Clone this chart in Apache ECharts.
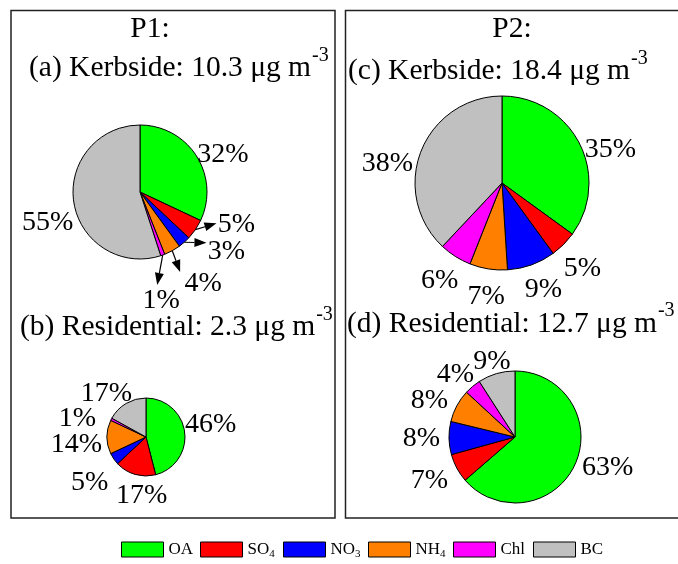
<!DOCTYPE html>
<html>
<head>
<meta charset="utf-8">
<script src="https://cdn.jsdelivr.net/npm/echarts@6/dist/echarts.min.js"></script>
<style>
  html, body { margin: 0; padding: 0; background: #fff; }
  #chart { width: 678px; height: 564px; }
</style>
</head>
<body>
<div id="chart"></div>
<script>
// Mass fractions (%) of PM components at the two periods and sites
const components = ['OA', 'SO4', 'NO3', 'NH4', 'Chl', 'BC'];
const kerbsideP1 = [32, 5, 3, 4, 1, 55];
const residentialP1 = [46, 17, 5, 14, 1, 17];
const kerbsideP2 = [35, 5, 9, 7, 6, 38];
const residentialP2 = [63, 7, 8, 8, 4, 9];
const periodNames = ['P1:', 'P2:'];
const siteNames = ['(a) Kerbside', '(b) Residential', '(c) Kerbside', '(d) Residential'];
const siteTotals = ['10.3', '2.3', '18.4', '12.7'];

const colors = ['#00ff00', '#ff0000', '#0000ff', '#ff8000', '#ff00ff', '#c0c0c0'];
const FONT = '"Liberation Serif", "Times New Roman", serif';
const LABEL_SIZE = 28;
const TITLE_SIZE = 29.5;

// Layout of each pie: centre, radius and small label adjustments
const pies = [
  { values: kerbsideP1, center: [140, 192], r: 67,
    nudge: [[-2, 6], [19, -17], [24.5, -6], [18, 15.5], [-10.5, 27], [7, 15]],
    // arrow tip relative to the label centre, for the small slices
    arrowTips: { 1: [-20, 0.5], 2: [-20, -7], 3: [-23, -10], 4: [-4, -14] } },
  { values: residentialP1, center: [146, 437], r: 39,
    nudge: [[-7.5, -7], [16, 2], [-2, 12], [3, 6], [-10, 6], [-2.5, 4]], arrowTips: {} },
  { values: kerbsideP2, center: [502, 183], r: 87,
    nudge: [[1, 12.6], [0, 9], [3, 6], [2, 8], [-1.5, 6.5], [-2.5, 17]], arrowTips: {} },
  { values: residentialP2, center: [515, 437], r: 66,
    nudge: [[2, -6], [-4, 2.4], [-1, -1.4], [-4, 1], [0, 0], [3, 3.6]], arrowTips: {} }
];

const measureCtx = document.createElement('canvas').getContext('2d');
function textWidth(str, size) {
  measureCtx.font = size + 'px ' + FONT;
  return measureCtx.measureText(str).width;
}

// clockwise angle (deg from 12 o'clock) of the middle of slice i
function midAngle(values, i) {
  const total = values.reduce((a, b) => a + b, 0);
  let before = 0;
  for (let k = 0; k < i; k++) before += values[k];
  return (before + values[i] / 2) / total * 360;
}

function arcPoint(p, i, radius) {
  const t = midAngle(p.values, i) * Math.PI / 180;
  return [p.center[0] + radius * Math.sin(t), p.center[1] - radius * Math.cos(t)];
}

const GAP = 8, HALF_H = 10, LABEL_DY = 2;
function labelCenter(pi, i) {
  const p = pies[pi];
  const t = midAngle(p.values, i) * Math.PI / 180;
  const hw = textWidth(p.values[i] + '%', LABEL_SIZE) / 2;
  const a = arcPoint(p, i, p.r + GAP);
  return [a[0] + hw * Math.sin(t) + p.nudge[i][0],
          a[1] - HALF_H * Math.cos(t) + p.nudge[i][1] + LABEL_DY];
}

// arrows pointing from the slice edge to its displaced label
function arrowGraphics() {
  const out = [];
  pies.forEach((p, pi) => {
    Object.keys(p.arrowTips).forEach(key => {
      const i = +key;
      const s = arcPoint(p, i, p.r);
      const c = labelCenter(pi, i);
      const tip = [c[0] + p.arrowTips[i][0], c[1] + p.arrowTips[i][1] - LABEL_DY];
      const dx = tip[0] - s[0], dy = tip[1] - s[1];
      const len = Math.hypot(dx, dy);
      const ux = dx / len, uy = dy / len;
      const headL = 12, headW = 4.5;
      const base = [tip[0] - ux * headL, tip[1] - uy * headL];
      out.push({
        type: 'line', z: 20,
        shape: { x1: s[0], y1: s[1], x2: base[0], y2: base[1] },
        style: { stroke: '#000', lineWidth: 1.2 }
      });
      out.push({
        type: 'polygon', z: 20,
        shape: { points: [tip, [base[0] - uy * headW, base[1] + ux * headW], [base[0] + uy * headW, base[1] - ux * headW]] },
        style: { fill: '#000' }
      });
    });
  });
  return out;
}

function titleText(x, y, text, align) {
  return {
    type: 'text', x: x, y: y, z: 10,
    style: {
      text: text, fill: '#000', font: TITLE_SIZE + 'px ' + FONT,
      lineHeight: 46,
      align: align, verticalAlign: 'middle',
      rich: { sup: { fontSize: 20, fontFamily: FONT, verticalAlign: 'top', lineHeight: 20, padding: [0, 0, 0, 1] } }
    }
  };
}
function siteTitle(k) {
  return siteNames[k] + ': ' + siteTotals[k] + ' μg m{sup|-3}';
}

const series = pies.map((p, pi) => ({
  type: 'pie',
  center: p.center,
  radius: p.r,
  startAngle: 90,
  clockwise: true,
  avoidLabelOverlap: false,
  animation: false,
  itemStyle: { borderColor: '#000', borderWidth: 1 },
  emphasis: { disabled: true },
  label: {
    show: true,
    position: 'outside',
    formatter: '{c}%',
    color: '#000',
    fontFamily: FONT,
    fontSize: LABEL_SIZE
  },
  labelLine: { show: false },
  labelLayout: params => {
    const c = labelCenter(pi, params.dataIndex);
    return { x: c[0], y: c[1], align: 'center', verticalAlign: 'middle' };
  },
  data: components.map((name, i) => ({ name: name, value: p.values[i] }))
}));

const legendNames = { SO4: 'SO{sub|4}', NO3: 'NO{sub|3}', NH4: 'NH{sub|4}' };
const legendLeft = [121, 200, 283, 368, 453, 533];
const legends = components.map((name, i) => ({
  data: [name],
  left: legendLeft[i],
  top: 539.5,
  padding: 0,
  orient: 'horizontal',
  selectedMode: false,
  icon: 'rect',
  itemWidth: 42,
  itemHeight: 15,
  itemGap: 0,
  itemStyle: { borderColor: '#000', borderWidth: 1 },
  formatter: n => legendNames[n] || n,
  textStyle: {
    fontFamily: FONT, fontSize: 17, color: '#000', lineHeight: 20,
    rich: { sub: { fontFamily: FONT, fontSize: 11, lineHeight: 11, verticalAlign: 'bottom' } }
  }
}));

const chart = echarts.init(document.getElementById('chart'), null, { renderer: 'canvas' });
chart.setOption({
  backgroundColor: '#fff',
  color: colors,
  animation: false,
  legend: legends,
  series: series,
  graphic: [
    { type: 'rect', z: 1, shape: { x: 11, y: 10.5, width: 324, height: 507.5 },
      style: { fill: 'none', stroke: '#222', lineWidth: 1.5 } },
    { type: 'rect', z: 1, shape: { x: 345.5, y: 10.5, width: 340, height: 507.5 },
      style: { fill: 'none', stroke: '#222', lineWidth: 1.5 } },
    titleText(150, 29.5, periodNames[0], 'center'),
    titleText(512, 29, periodNames[1], 'center'),
    titleText(29, 68.5, siteTitle(0), 'left'),
    titleText(20, 327.5, siteTitle(1), 'left'),
    titleText(348, 71.5, siteTitle(2), 'left'),
    titleText(347, 324, siteTitle(3), 'left')
  ].concat(arrowGraphics())
});
</script>
</body>
</html>
